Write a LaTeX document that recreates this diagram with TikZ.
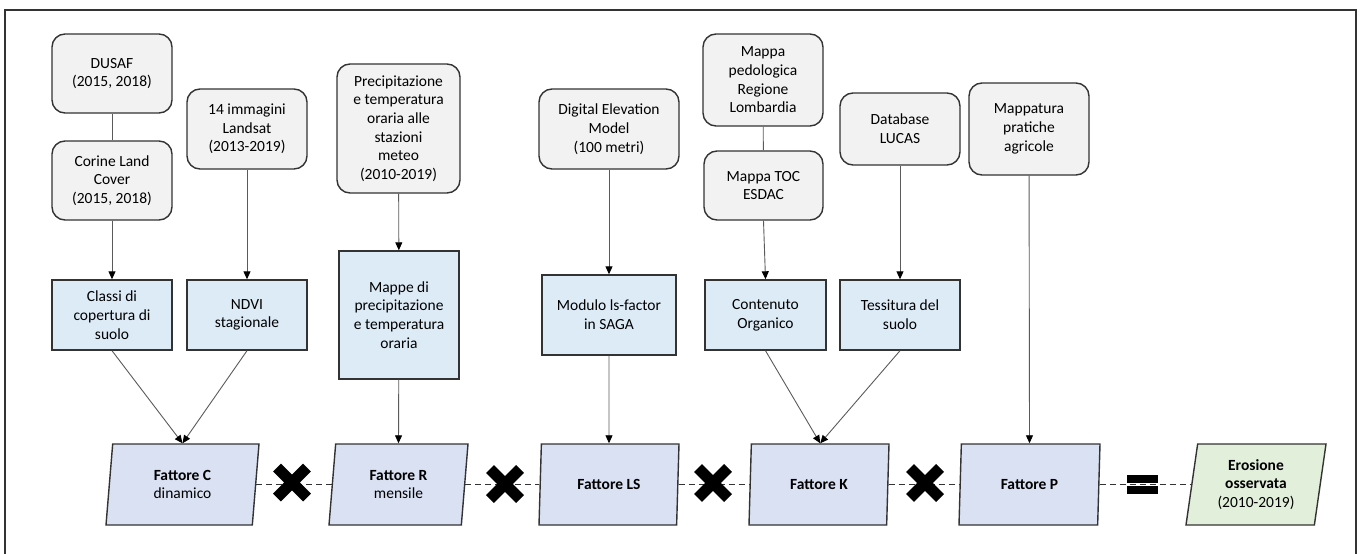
\documentclass[tikz,border=0pt]{standalone}
\usepackage{fontspec}
\setmainfont{Carlito}
\usetikzlibrary{shapes.geometric,shapes.misc,arrows.meta}

\definecolor{srcgray}{HTML}{F2F2F2}
\definecolor{procblue}{HTML}{DDEBF7}
\definecolor{factblue}{HTML}{D9E1F2}
\definecolor{erogreen}{HTML}{E2EFDA}
\definecolor{edgegray}{HTML}{333333}
\definecolor{linkgray}{HTML}{5A5A5A}

\begin{document}
\begin{tikzpicture}[x=1pt, y=-1pt,
  every node/.style={font=\fontsize{15.5}{18.7}\selectfont, align=center, inner sep=0pt},
  source/.style={draw=edgegray, line width=1.4pt, fill=srcgray, rounded corners=13pt, minimum width=120pt},
  proc/.style={draw=edgegray, line width=1.4pt, fill=procblue, minimum width=120pt, minimum height=70pt},
  factor/.style={trapezium, trapezium left angle=77, trapezium right angle=103, trapezium stretches body,
    draw=edgegray, line width=1.4pt, fill=factblue, minimum height=81pt, minimum width=140pt},
  result/.style={factor, fill=erogreen},
  link/.style={draw=linkgray, line width=0.9pt, -{Triangle[length=8pt, width=7pt, color=black]}},
  joint/.style={draw=linkgray, line width=0.9pt},
  product/.style={draw=edgegray, line width=1.6pt, dash pattern=on 6pt off 4pt},
  multiply/.style={cross out, draw=black, line width=11pt, minimum size=19pt},
  eqbar/.style={fill=black, minimum width=31pt, minimum height=8pt},
]

\useasboundingbox (0,0) rectangle (1363,554);
\draw[edgegray, line width=1.3pt] (5,10) rectangle (1356,570);

\node[source, minimum height=79pt] (dusaf) at (112,73.5) {DUSAF\\(2015, 2018)};
\node[source, minimum height=79pt] (corine) at (112,180.5) {Corine Land\\Cover\\(2015, 2018)};
\node[source, minimum height=80pt] (landsat) at (247,129) {14 immagini\\Landsat\\(2013-2019)};
\node[source, minimum width=123pt, minimum height=129pt] (precip) at (398.5,128.5) {Precipitazione\\e temperatura\\oraria alle\\stazioni\\meteo\\(2010-2019)};
\node[source, minimum width=140pt, minimum height=80pt] (dem) at (609,129) {Digital Elevation\\Model\\(100 metri)};
\node[source, minimum height=92pt] (pedo) at (763,80) {Mappa\\pedologica\\Regione\\Lombardia};
\node[source, minimum width=119pt, minimum height=69pt] (toc) at (763.5,185.5) {Mappa TOC\\ESDAC};
\node[source, minimum height=72pt] (lucas) at (900,129) {Database\\LUCAS};
\node[source, minimum height=92pt] (pratiche) at (1029,129) {Mappatura\\pratiche\\agricole};

\node[proc] (classi) at (112,315) {Classi di\\copertura di\\suolo};
\node[proc] (ndvi) at (247,315) {NDVI\\stagionale};
\node[proc, minimum height=128pt] (mappe) at (399,315) {Mappe di\\precipitazione\\e temperatura\\oraria};
\node[proc, minimum width=134pt, minimum height=80pt] (modulo) at (609,315) {Modulo ls-factor\\in SAGA};
\node[proc, minimum width=121pt] (contenuto) at (765.5,315) {Contenuto\\Organico};
\node[proc] (tessitura) at (900,315) {Tessitura del\\suolo};

\node[factor, minimum width=153pt] (fc) at (182.5,484.5) {\textbf{Fattore C}\\dinamico};
\node[factor, minimum width=139pt] (fr) at (398.5,484.5) {\textbf{Fattore R}\\mensile};
\node[factor] (fls) at (609,484.5) {\textbf{Fattore LS}};
\node[factor] (fk) at (819,484.5) {\textbf{Fattore K}};
\node[factor, minimum width=141pt] (fp) at (1029.5,484.5) {\textbf{Fattore P}};
\node[result] (ero) at (1256,484.5) {\textbf{Erosione}\\\textbf{osservata}\\(2010-2019)};

\draw[joint] (dusaf) -- (corine);
\draw[link] (corine) -- (classi);
\draw[link] (landsat) -- (ndvi);
\draw[link] (precip) -- (mappe);
\draw[link] (dem) -- (modulo);
\draw[joint] (pedo) -- (toc);
\draw[link] (toc.south) -- (contenuto.north);
\draw[link] (lucas) -- (tessitura);

\draw[link] (classi.south) -- (fc.north);
\draw[link] (ndvi.south) -- (fc.north);
\draw[link] (mappe) -- (fr.north);
\draw[link] (modulo) -- (fls.north);
\draw[link] (contenuto.south) -- (fk.top side);
\draw[link] (tessitura.south) -- (fk.top side);
\draw[link] (pratiche) -- (fp.north);

\draw[product] (fc.right side) -- (fr.left side);
\draw[product] (fr.right side) -- (fls.left side);
\draw[product] (fls.right side) -- (fk.left side);
\draw[product] (fk.right side) -- (fp.left side);
\draw[product] (fp.right side) -- (ero.left side);

\node[multiply] (m1) at (292,482.5) {};
\node[multiply] (m2) at (505,484) {};
\node[multiply] (m3) at (713,483) {};
\node[multiply] (m4) at (925,483) {};
\node[eqbar] (eq1) at (1142.5,479.2) {};
\node[eqbar] (eq2) at (1142.5,489.8) {};

\end{tikzpicture}
\end{document}
